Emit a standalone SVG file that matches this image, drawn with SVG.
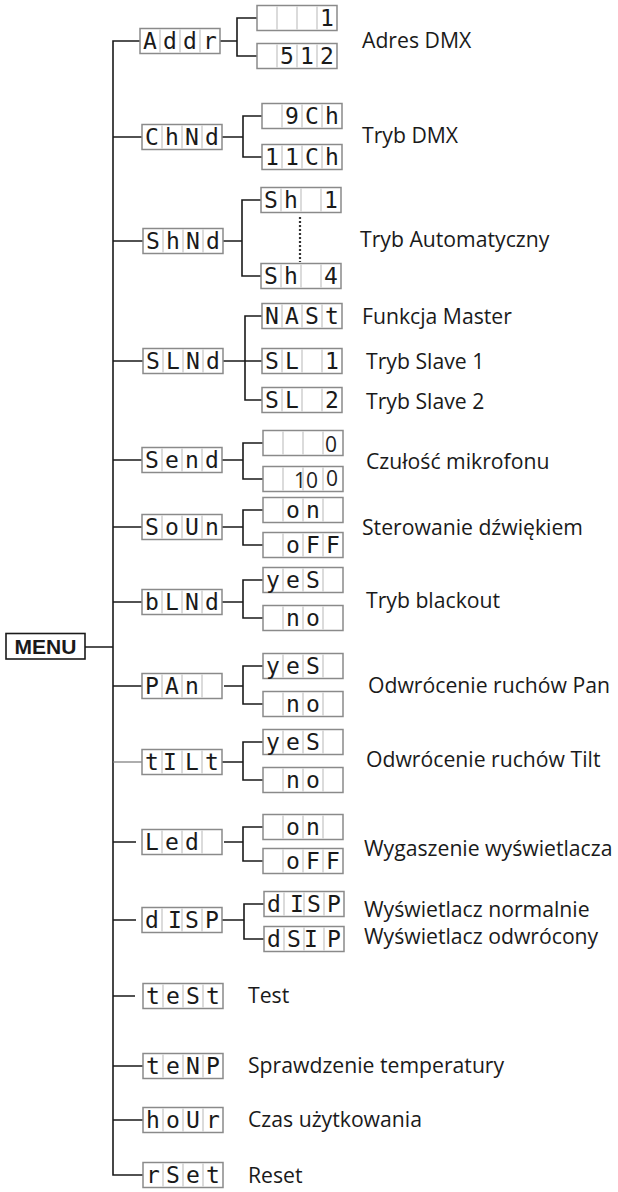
<svg xmlns="http://www.w3.org/2000/svg" xmlns:xlink="http://www.w3.org/1999/xlink" width="618" height="1192" viewBox="0 0 618 1192">
<style>
.box{fill:#fff;stroke:#8a8a8a;stroke-width:1.5}
.dv{fill:none;stroke:#c4c4c4;stroke-width:1.2}
.seg{font-family:"DejaVu Sans Mono",monospace;font-size:23px;fill:#1a1a1a;text-anchor:middle}
.num{font-family:"Open Sans",sans-serif;font-size:21px;fill:#222;text-anchor:middle}
.lbl{font-family:"Open Sans",sans-serif;font-size:21.2px;fill:#1a1a1a}
.wire{fill:none;stroke:#1a1a1a;stroke-width:1.6}
.menu{font-family:"Liberation Sans",sans-serif;font-weight:bold;font-size:21px;fill:#1a1a1a}
</style>
<defs>
<g id="cells">
<rect class="box" x="0" y="0" width="80" height="25"/>
<path class="dv" d="M20 1V24M40 1V24M60 1V24"/>
</g>
</defs>

<g id="connectors">
<path class="wire" d="M85 647H113M140 41H113V1175H143"/>
<path class="wire" d="M113 137H142M113 241H143M113 361H143M113 460H142M113 527H142M113 602H142M113 686H142M113 842H136M113 920H136M113 996H135M113 1066H143M113 1120H143"/>
<path class="wire" style="stroke:#777;stroke-width:1.2" d="M113 762H142"/>
<path class="wire" d="M220 41H237M257 18H237V56H257"/>
<path class="wire" d="M222 137H243M262 116H243V157H262"/>
<path class="wire" d="M223 241H242M261 200H242V276H261"/>
<path class="wire" d="M223 361H262M262 316H245V400H262"/>
<path class="wire" d="M222 460H243M263 443H243V479H263"/>
<path class="wire" d="M222 527H243M263 510H243V545H263"/>
<path class="wire" d="M222 602H243M263 580H243V618H263"/>
<path class="wire" d="M224 686H243M263 666H243V704H263"/>
<path class="wire" d="M222 762H243M263 742H243V780H263"/>
<path class="wire" d="M224 842H243M263 827H243V861H263"/>
<path class="wire" d="M222 920H244M264 904H244V939H264"/>
<path fill="none" stroke="#333" stroke-width="2.2" stroke-dasharray="2 2" d="M300 217V262"/>
</g>

<g id="menu">
<rect x="6" y="633.5" width="79" height="25.5" fill="#fff" stroke="#1a1a1a" stroke-width="1.6"/>
<text class="menu" x="45.5" y="654" text-anchor="middle">MENU</text>
</g>

<g id="addr" transform="translate(140,28.5)"><use xlink:href="#cells"/><text class="seg" y="20"><tspan x="10">A</tspan><tspan x="30">d</tspan><tspan x="50">d</tspan><tspan x="70">r</tspan></text></g>
<g id="addr-1" transform="translate(257,5.5)"><use xlink:href="#cells"/><text class="seg" x="70" y="20">1</text></g>
<g id="addr-512" transform="translate(257,43.5)"><use xlink:href="#cells"/><text class="seg" y="20"><tspan x="30">5</tspan><tspan x="50">1</tspan><tspan x="70">2</tspan></text></g>
<text id="lbl-addr" class="lbl" x="362" y="48">Adres DMX</text>

<g id="chnd" transform="translate(142,124.5)"><use xlink:href="#cells"/><text class="seg" y="20"><tspan x="10">C</tspan><tspan x="30">h</tspan><tspan x="50">N</tspan><tspan x="70">d</tspan></text></g>
<g id="chnd-9ch" transform="translate(262,103.5)"><use xlink:href="#cells"/><text class="seg" y="20"><tspan x="30">9</tspan><tspan x="50">C</tspan><tspan x="70">h</tspan></text></g>
<g id="chnd-11ch" transform="translate(262,144.5)"><use xlink:href="#cells"/><text class="seg" y="20"><tspan x="10">1</tspan><tspan x="30">1</tspan><tspan x="50">C</tspan><tspan x="70">h</tspan></text></g>
<text id="lbl-chnd" class="lbl" x="362" y="143">Tryb DMX</text>

<g id="shnd" transform="translate(143,228.5)"><use xlink:href="#cells"/><text class="seg" y="20"><tspan x="10">S</tspan><tspan x="30">h</tspan><tspan x="50">N</tspan><tspan x="70">d</tspan></text></g>
<g id="shnd-1" transform="translate(261,187.5)"><use xlink:href="#cells"/><text class="seg" y="20"><tspan x="10">S</tspan><tspan x="30">h</tspan><tspan x="70">1</tspan></text></g>
<g id="shnd-4" transform="translate(261,263.5)"><use xlink:href="#cells"/><text class="seg" y="20"><tspan x="10">S</tspan><tspan x="30">h</tspan><tspan x="70">4</tspan></text></g>
<text id="lbl-shnd" class="lbl" x="360" y="247">Tryb Automatyczny</text>

<g id="slnd" transform="translate(143,348.5)"><use xlink:href="#cells"/><text class="seg" y="20"><tspan x="10">S</tspan><tspan x="30">L</tspan><tspan x="50">N</tspan><tspan x="70">d</tspan></text></g>
<g id="slnd-nast" transform="translate(262,303.5)"><use xlink:href="#cells"/><text class="seg" y="20"><tspan x="10">N</tspan><tspan x="30">A</tspan><tspan x="50">S</tspan><tspan x="70">t</tspan></text></g>
<g id="slnd-sl1" transform="translate(262,348.5)"><use xlink:href="#cells"/><text class="seg" y="20"><tspan x="10">S</tspan><tspan x="30">L</tspan><tspan x="70">1</tspan></text></g>
<g id="slnd-sl2" transform="translate(262,387.5)"><use xlink:href="#cells"/><text class="seg" y="20"><tspan x="10">S</tspan><tspan x="30">L</tspan><tspan x="70">2</tspan></text></g>
<text id="lbl-master" class="lbl" x="362" y="324">Funkcja Master</text>
<text id="lbl-slave1" class="lbl" x="366" y="369">Tryb Slave 1</text>
<text id="lbl-slave2" class="lbl" x="366" y="409">Tryb Slave 2</text>

<g id="send" transform="translate(142,447.5)"><use xlink:href="#cells"/><text class="seg" y="20"><tspan x="10">S</tspan><tspan x="30">e</tspan><tspan x="50">n</tspan><tspan x="70">d</tspan></text></g>
<g id="send-0" transform="translate(263,430.5)"><use xlink:href="#cells"/><text class="num" x="68" y="21">0</text></g>
<g id="send-100" transform="translate(263,466.5)"><use xlink:href="#cells"/><text class="num" x="43" y="21">10</text><text class="num" x="69" y="19">0</text></g>
<text id="lbl-send" class="lbl" x="366" y="469">Czułość mikrofonu</text>

<g id="soun" transform="translate(142,514.5)"><use xlink:href="#cells"/><text class="seg" y="20"><tspan x="10">S</tspan><tspan x="30">o</tspan><tspan x="50">U</tspan><tspan x="70">n</tspan></text></g>
<g id="soun-on" transform="translate(263,497.5)"><use xlink:href="#cells"/><text class="seg" y="20"><tspan x="30">o</tspan><tspan x="50">n</tspan></text></g>
<g id="soun-off" transform="translate(263,532.5)"><use xlink:href="#cells"/><text class="seg" y="20"><tspan x="30">o</tspan><tspan x="50">F</tspan><tspan x="70">F</tspan></text></g>
<text id="lbl-soun" class="lbl" x="362" y="535">Sterowanie dźwiękiem</text>

<g id="blnd" transform="translate(142,589.5)"><use xlink:href="#cells"/><text class="seg" y="20"><tspan x="10">b</tspan><tspan x="30">L</tspan><tspan x="50">N</tspan><tspan x="70">d</tspan></text></g>
<g id="blnd-yes" transform="translate(263,567.5)"><use xlink:href="#cells"/><text class="seg" y="20"><tspan x="10">y</tspan><tspan x="30">e</tspan><tspan x="50">S</tspan></text></g>
<g id="blnd-no" transform="translate(263,605.5)"><use xlink:href="#cells"/><text class="seg" y="20"><tspan x="30">n</tspan><tspan x="50">o</tspan></text></g>
<text id="lbl-blnd" class="lbl" x="366" y="608">Tryb blackout</text>

<g id="pan" transform="translate(142,673.5)"><use xlink:href="#cells"/><text class="seg" y="20"><tspan x="10">P</tspan><tspan x="30">A</tspan><tspan x="50">n</tspan></text></g>
<g id="pan-yes" transform="translate(263,653.5)"><use xlink:href="#cells"/><text class="seg" y="20"><tspan x="10">y</tspan><tspan x="30">e</tspan><tspan x="50">S</tspan></text></g>
<g id="pan-no" transform="translate(263,691.5)"><use xlink:href="#cells"/><text class="seg" y="20"><tspan x="30">n</tspan><tspan x="50">o</tspan></text></g>
<text id="lbl-pan" class="lbl" x="368" y="693">Odwrócenie ruchów Pan</text>

<g id="tilt" transform="translate(142,749.5)"><use xlink:href="#cells"/><text class="seg" y="20"><tspan x="10">t</tspan><tspan x="28">I</tspan><tspan x="50">L</tspan><tspan x="70">t</tspan></text></g>
<g id="tilt-yes" transform="translate(263,729.5)"><use xlink:href="#cells"/><text class="seg" y="20"><tspan x="10">y</tspan><tspan x="30">e</tspan><tspan x="50">S</tspan></text></g>
<g id="tilt-no" transform="translate(263,767.5)"><use xlink:href="#cells"/><text class="seg" y="20"><tspan x="30">n</tspan><tspan x="50">o</tspan></text></g>
<text id="lbl-tilt" class="lbl" x="366" y="767">Odwrócenie ruchów Tilt</text>

<g id="led" transform="translate(142,829.5)"><use xlink:href="#cells"/><text class="seg" y="20"><tspan x="10">L</tspan><tspan x="30">e</tspan><tspan x="50">d</tspan></text></g>
<g id="led-on" transform="translate(263,814.5)"><use xlink:href="#cells"/><text class="seg" y="20"><tspan x="30">o</tspan><tspan x="50">n</tspan></text></g>
<g id="led-off" transform="translate(263,848.5)"><use xlink:href="#cells"/><text class="seg" y="20"><tspan x="30">o</tspan><tspan x="50">F</tspan><tspan x="70">F</tspan></text></g>
<text id="lbl-led" class="lbl" x="364" y="856">Wygaszenie wyświetlacza</text>

<g id="disp" transform="translate(142,907.5)"><use xlink:href="#cells"/><text class="seg" y="20"><tspan x="10">d</tspan><tspan x="33">I</tspan><tspan x="50">S</tspan><tspan x="70">P</tspan></text></g>
<g id="disp-normal" transform="translate(264,891.5)"><use xlink:href="#cells"/><text class="seg" y="20"><tspan x="10">d</tspan><tspan x="33">I</tspan><tspan x="50">S</tspan><tspan x="70">P</tspan></text></g>
<g id="disp-inv" transform="translate(264,926.5)"><use xlink:href="#cells"/><text class="seg" y="20"><tspan x="10">d</tspan><tspan x="30">S</tspan><tspan x="47">I</tspan><tspan x="70">P</tspan></text></g>
<text id="lbl-disp1" class="lbl" x="364" y="917">Wyświetlacz normalnie</text>
<text id="lbl-disp2" class="lbl" x="364" y="944">Wyświetlacz odwrócony</text>

<g id="test" transform="translate(143,983.5)"><use xlink:href="#cells"/><text class="seg" y="20"><tspan x="10">t</tspan><tspan x="30">e</tspan><tspan x="50">S</tspan><tspan x="70">t</tspan></text></g>
<text id="lbl-test" class="lbl" x="248" y="1003">Test</text>

<g id="temp" transform="translate(143,1053.5)"><use xlink:href="#cells"/><text class="seg" y="20"><tspan x="10">t</tspan><tspan x="30">e</tspan><tspan x="50">N</tspan><tspan x="70">P</tspan></text></g>
<text id="lbl-temp" class="lbl" x="248" y="1073">Sprawdzenie temperatury</text>

<g id="hour" transform="translate(143,1107.5)"><use xlink:href="#cells"/><text class="seg" y="20"><tspan x="10">h</tspan><tspan x="30">o</tspan><tspan x="50">U</tspan><tspan x="70">r</tspan></text></g>
<text id="lbl-hour" class="lbl" x="248" y="1127">Czas użytkowania</text>

<g id="rset" transform="translate(143,1162.5)"><use xlink:href="#cells"/><text class="seg" y="20"><tspan x="10">r</tspan><tspan x="30">S</tspan><tspan x="50">e</tspan><tspan x="70">t</tspan></text></g>
<text id="lbl-rset" class="lbl" x="248" y="1183">Reset</text>
</svg>
